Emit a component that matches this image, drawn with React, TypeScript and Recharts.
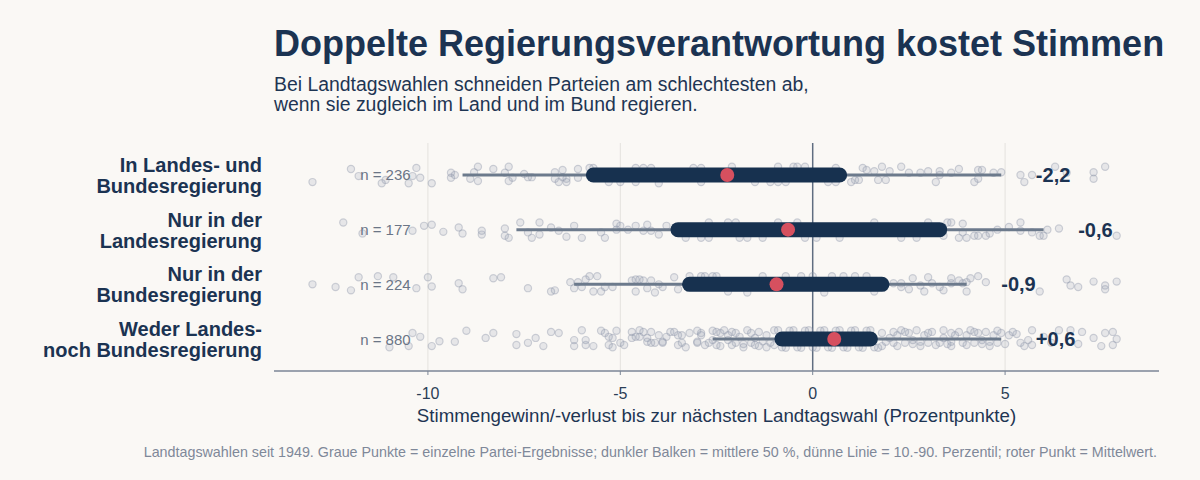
import { ReferenceLine, Scatter, ScatterChart, XAxis, YAxis } from 'recharts';

const FONT = '"Liberation Sans", Arial, sans-serif';
const NAVY = '#1b3352';

const CATEGORIES = [
  ['In Landes- und', 'Bundesregierung'],
  ['Nur in der', 'Landesregierung'],
  ['Nur in der', 'Bundesregierung'],
  ['Weder Landes-', 'noch Bundesregierung'],
];
const COUNTS = [236, 177, 224, 880];
const P10 = [-9.1, -7.7, -6.2, -2.6];
const Q1 = [-5.7, -3.5, -3.2, -0.8];
const Q3 = [0.7, 3.3, 1.8, 1.5];
const P90 = [4.9, 6.0, 4.0, 4.9];
const MEANS = [-2.22, -0.64, -0.94, 0.56];
const X_TICKS = [-10, -5, 0, 5];

// single party results: [change, vertical jitter within the row]
const ROW_POINTS: [number, number][][] = [
  [
    [-13.0, 0.13], [-12.0, -0.11], [-11.8, 0.02], [-11.2, 0.15], [-11.1, 0.09], [-10.5, 0.15], [-10.4, 0.02],
    [-10.3, -0.13], [-10.2, 0.05], [-9.9, 0.15], [-9.4, -0.04], [-9.4, 0.05], [-9.3, 0], [-8.9, 0.07],
    [-8.8, -0.05], [-8.7, -0.15], [-8.7, 0.11], [-8.3, -0.11], [-8.0, -0.04], [-7.9, -0.15], [-7.9, 0.11],
    [-7.8, 0.05], [-7.5, -0.02], [-7.4, 0.04], [-7.3, 0.04], [-6.7, -0.05], [-6.7, 0.07], [-6.6, 0.13],
    [-6.5, -0.09], [-6.5, 0.04], [-6.4, 0.13], [-6.4, 0.07], [-6.1, -0.11], [-6.1, 0.05], [-5.8, -0.13],
    [-5.7, -0.13], [-5.3, 0.13], [-5.0, 0.13], [-4.6, -0.13], [-4.6, 0.13], [-4.4, -0.13], [-4.2, -0.13],
    [-4.0, 0.15], [-3.1, -0.13], [-2.9, -0.13], [-2.9, 0.13], [-2.1, -0.15], [-1.5, 0.13], [-1.1, 0.13],
    [-0.9, -0.15], [-0.9, 0.13], [-0.7, 0.13], [-0.5, -0.15], [-0.4, -0.15], [-0.2, -0.15], [0.4, 0.13],
    [0.6, -0.13], [0.6, 0.13], [1.0, 0.13], [1.1, 0.09], [1.2, 0.09], [1.3, -0.13], [1.4, -0.09],
    [1.6, -0.07], [1.7, 0.09], [1.8, -0.15], [1.9, 0.09], [2.0, -0.07], [2.3, -0.15], [2.5, -0.04],
    [2.8, -0.04], [3.0, -0.07], [3.2, 0.13], [3.3, -0.07], [3.3, 0], [3.6, -0.04], [3.8, -0.11],
    [4.2, 0.13], [4.3, -0.09], [4.3, 0.07], [4.4, -0.09], [4.7, -0.04], [4.9, -0.05], [5.4, 0],
    [5.5, 0.13], [5.7, 0], [6.3, -0.15], [6.6, -0.04], [7.3, -0.05], [7.3, 0.07], [7.6, -0.15],
  ],
  [
    [-12.2, -0.13], [-11.7, 0.07], [-10.4, 0.02], [-10.1, -0.07], [-9.9, -0.09], [-9.6, 0.04], [-9.2, -0.04],
    [-9.1, 0.07], [-8.6, 0.02], [-8.6, 0.09], [-8.0, -0.02], [-8.0, 0.11], [-7.9, 0.15], [-7.6, -0.13],
    [-7.4, 0.05], [-7.3, 0.15], [-7.1, -0.13], [-7.1, 0.09], [-6.8, -0.04], [-6.6, 0.02], [-6.4, 0.13],
    [-6.2, -0.07], [-6.0, 0.15], [-5.5, 0.05], [-5.4, 0.15], [-5.1, 0], [-5.1, -0.11], [-5.0, -0.07],
    [-4.8, 0], [-4.6, -0.07], [-4.4, 0.02], [-4.3, -0.09], [-4.2, 0.02], [-4.0, 0.09], [-3.8, -0.07],
    [-3.3, 0.15], [-2.9, 0.15], [-2.7, -0.13], [-2.7, 0.15], [-2.2, -0.13], [-2.0, -0.13], [-1.9, 0.15],
    [-1.7, 0.15], [-1.3, 0.15], [-0.9, -0.13], [-0.4, -0.13], [-0.2, 0.15], [0.1, 0.15], [0.7, 0.15],
    [1.6, -0.13], [2.3, 0.15], [2.7, 0.15], [3.0, -0.13], [3.4, 0.11], [3.5, -0.13], [3.6, -0.13],
    [3.8, 0.15], [3.9, -0.11], [3.9, 0.05], [4.0, 0.15], [4.2, 0.11], [4.3, 0.11], [4.5, 0.11],
    [4.6, 0.07], [4.8, 0], [5.1, -0.05], [5.4, -0.13], [5.4, 0.02], [5.7, 0.05], [5.9, 0.11],
    [6.0, 0.11], [6.1, 0], [6.4, -0.02], [7.9, 0.11],
  ],
  [
    [-13.0, 0], [-12.4, 0.05], [-12.0, 0.11], [-11.8, -0.13], [-11.3, -0.15], [-10.9, -0.13], [-10.3, 0.07],
    [-10.0, -0.13], [-9.9, 0.04], [-9.2, -0.02], [-9.1, 0.09], [-8.3, -0.11], [-8.1, -0.13], [-7.4, 0.07],
    [-6.8, 0.13], [-6.7, 0.11], [-6.3, -0.04], [-6.2, 0.07], [-6.1, -0.04], [-6.0, 0.05], [-5.9, -0.09],
    [-5.8, -0.15], [-5.6, -0.15], [-5.7, 0.13], [-5.5, 0.13], [-5.4, 0.05], [-5.2, 0.05], [-4.7, -0.07],
    [-4.6, -0.09], [-4.5, -0.09], [-4.4, -0.07], [-4.2, -0.07], [-4.6, 0.13], [-4.3, 0.07], [-4.1, 0.15],
    [-4.0, 0], [-3.9, 0.05], [-3.6, -0.13], [-3.5, 0.09], [-3.2, -0.15], [-2.9, -0.15], [-2.8, -0.15],
    [-2.6, -0.15], [-2.5, -0.15], [-2.2, 0.13], [-1.7, 0.15], [-1.3, -0.15], [-0.7, -0.15], [-0.3, -0.15],
    [0.0, -0.15], [0.3, 0.15], [0.5, -0.15], [0.8, -0.15], [1.1, -0.15], [1.4, -0.15], [1.6, 0.13],
    [2.1, -0.02], [2.3, 0.05], [2.3, -0.02], [2.5, 0.09], [2.6, -0.11], [2.8, 0.02], [2.9, 0.13],
    [3.0, -0.13], [3.1, -0.02], [3.3, 0.05], [3.4, 0.11], [3.6, -0.11], [3.6, -0.02], [3.8, -0.07],
    [3.9, -0.02], [4.0, -0.04], [4.0, 0.13], [4.1, -0.11], [4.3, -0.15], [4.5, -0.04], [5.9, 0.13],
    [6.6, -0.09], [6.7, 0.02], [6.9, 0.05], [7.3, -0.05], [7.6, 0.02], [7.6, 0.09], [7.9, -0.05],
  ],
  [
    [-11.0, 0.15], [-10.5, 0.13], [-10.4, -0.11], [-10.2, -0.04], [-9.9, 0.13], [-9.7, 0.04], [-9.3, 0.05],
    [-9.0, -0.15], [-8.5, -0.02], [-8.3, -0.11], [-7.7, -0.09], [-7.7, 0.11], [-7.4, 0.07], [-7.2, -0.02],
    [-7.0, 0.13], [-6.8, -0.13], [-6.6, -0.11], [-6.2, 0.02], [-6.2, 0.13], [-6.0, -0.16], [-5.9, 0.02],
    [-5.9, 0.11], [-5.7, 0.13], [-5.5, -0.15], [-5.4, -0.11], [-5.3, 0.11], [-5.2, -0.02], [-5.1, -0.15],
    [-5.2, 0.15], [-5.0, 0.07], [-4.9, 0.11], [-4.7, -0.13], [-4.7, -0.02], [-4.5, -0.16], [-4.5, -0.04],
    [-4.4, -0.13], [-4.3, -0.02], [-4.2, -0.13], [-4.2, 0.07], [-4.1, 0.07], [-4.0, -0.07], [-3.9, 0.05],
    [-3.8, -0.04], [-3.6, -0.13], [-3.5, -0.07], [-3.5, 0.11], [-3.4, -0.07], [-3.3, 0.15], [-3.2, -0.11],
    [-3.0, -0.15], [-3.0, 0.05], [-2.9, -0.07], [-2.8, 0.11], [-2.6, 0.02], [-2.5, -0.13], [-2.5, 0.11],
    [-5.3, -0.04], [-4.6, -0.04], [-4.3, 0.05], [-3.9, 0.07], [-3.7, -0.13], [-3.4, 0.07], [-3.0, 0.07],
    [-2.9, -0.11], [-2.7, 0.07], [-2.6, -0.15], [-2.4, -0.11], [-2.3, -0.16], [-2.2, -0.07], [-2.1, -0.13],
    [-2.0, 0.07], [-2.0, -0.11], [-1.8, 0.09], [-1.7, -0.16], [-1.6, 0.07], [-1.6, -0.11], [-1.5, 0.11],
    [-1.4, -0.13], [-1.3, 0.04], [-1.2, -0.07], [-1.1, 0.07], [-1.0, -0.16], [-0.9, -0.16], [-0.7, 0.16],
    [-0.5, -0.16], [-0.3, 0.16], [-0.1, -0.16], [0.1, 0.16], [0.3, -0.16], [0.5, 0.16], [0.7, -0.16],
    [0.9, 0.16], [1.1, -0.16], [1.3, 0.16], [1.5, -0.16], [1.7, 0.16], [1.8, -0.11], [1.9, 0.05],
    [2.1, -0.13], [2.1, 0.07], [2.2, -0.07], [2.3, -0.16], [2.4, 0.07], [2.5, -0.11], [2.6, 0.09],
    [2.7, -0.16], [2.8, 0.05], [2.9, -0.07], [3.0, 0.07], [3.1, -0.13], [3.3, 0.07], [3.4, -0.16],
    [3.5, 0.09], [3.6, -0.11], [3.6, 0.05], [3.8, -0.13], [3.9, 0.07], [4.0, -0.07], [4.1, -0.16],
    [4.2, 0.07], [4.3, -0.11], [4.4, 0.09], [4.5, -0.13], [4.6, 0.05], [4.7, -0.07], [4.8, 0.07],
    [4.9, -0.11], [5.1, -0.07], [5.3, -0.09], [5.4, 0.07], [5.6, 0.02], [5.7, -0.16], [5.7, 0.11],
    [6.0, -0.04], [6.4, -0.16], [6.7, -0.16], [7.0, -0.13], [7.3, -0.02], [7.6, -0.11], [7.8, -0.13],
    [7.8, 0.11], [7.9, 0],
    [-2.4, 0.13], [-2.2, 0.02], [-2.1, 0.11], [-1.9, -0.04], [-1.8, 0.15], [-1.5, -0.02], [-1.4, 0.13],
    [-1.2, 0.15], [-1.0, 0.11], [-0.8, 0.15], [-0.6, -0.15], [-0.4, 0.15], [-0.2, -0.15], [0.0, 0.15],
    [0.2, -0.15], [0.4, 0.15], [0.6, -0.15], [0.8, 0.15], [1.0, -0.15], [1.2, 0.15], [1.4, -0.15],
    [1.6, 0.15], [1.8, 0.13], [2.0, -0.02], [2.2, 0.13], [2.4, -0.13], [2.6, 0.02], [2.8, 0.13],
    [3.0, -0.11], [3.2, 0.11], [3.4, -0.02], [3.6, 0.13], [3.7, -0.07], [4.0, 0.11], [4.2, -0.13],
    [4.4, 0.02], [4.6, 0.13], [4.8, -0.15], [5.0, 0.09], [5.2, -0.13], [5.5, 0.13], [6.2, 0.07],
    [6.9, 0.09], [7.5, 0.13],
  ],
];

// layout constants (data units)
const N_LABEL_X = -10.45;
const VALUE_LABEL_GAP = 0.9;

const fmt = (v: number) => (v > 0 ? '+' : '') + v.toFixed(1).replace('.', ',');

function Dot(p: any) {
  return (
    <circle
      cx={p.cx}
      cy={p.cy}
      r={3.6}
      fill="#98a1b3"
      fillOpacity={0.2}
      stroke="#8e97a9"
      strokeOpacity={0.4}
      strokeWidth={1.2}
    />
  );
}

const Nothing = () => <g />;

function MeanDot(p: any) {
  return <circle cx={p.cx} cy={p.cy} r={7} fill="#d6505f" />;
}

function ValueLabel(p: any) {
  return (
    <text x={p.cx} y={p.cy + 7} fontFamily={FONT} fontSize={20} fontWeight="bold" fill={NAVY}>
      {p.payload.label}
    </text>
  );
}

function CountLabel(p: any) {
  return (
    <text x={p.cx} y={p.cy + 5.5} textAnchor="end" fontFamily={FONT} fontSize={15} fill="#6b7586">
      {p.payload.label}
    </text>
  );
}

function RowTick(p: any) {
  const lines = CATEGORIES[p.payload.value] ?? [];
  return (
    <text x={p.x} y={p.y} textAnchor="end" fontFamily={FONT} fontSize={20} fontWeight="bold" fill={NAVY}>
      <tspan x={p.x} y={p.y - 3}>{lines[0]}</tspan>
      <tspan x={p.x} y={p.y + 18}>{lines[1]}</tspan>
    </text>
  );
}

export default function App() {
  const rows = CATEGORIES.map((_, i) => i);
  const means = rows.map((i) => ({ x: MEANS[i], y: i }));
  const valueLabels = rows.map((i) => ({ x: P90[i] + VALUE_LABEL_GAP, y: i, label: fmt(MEANS[i]) }));
  const countLabels = rows.map((i) => ({ x: N_LABEL_X, y: i, label: `n = ${COUNTS[i]}` }));

  return (
    <div style={{ position: 'absolute', left: 0, top: 0, width: 1200, height: 480, background: '#faf8f5' }}>
      <ScatterChart width={1200} height={480} margin={{ top: 143, right: 41, bottom: 79, left: 0 }}>
        <XAxis
          type="number"
          dataKey="x"
          domain={[-14, 9]}
          ticks={X_TICKS}
          allowDataOverflow
          height={30}
          tickSize={4}
          tickMargin={13}
          axisLine={{ stroke: '#7b8696', strokeWidth: 1.5 }}
          tickLine={{ stroke: '#7b8696' }}
          tick={{ fontSize: 16, fill: '#2b3e56', fontFamily: FONT }}
        />
        <YAxis
          type="number"
          dataKey="y"
          domain={[-0.585, 3.585]}
          reversed
          ticks={rows}
          interval={0}
          allowDataOverflow
          width={274}
          axisLine={false}
          tickLine={false}
          tickSize={0}
          tickMargin={12}
          tick={(p: any) => <RowTick {...p} />}
        />
        {X_TICKS.filter((t) => t !== 0).map((t) => (
          <ReferenceLine key={`g${t}`} x={t} stroke="#e4e2de" strokeWidth={1} />
        ))}
        <ReferenceLine x={0} stroke="#5f6d80" strokeWidth={1.5} />
        {ROW_POINTS.map((pts, i) => (
          <Scatter
            key={`pts${i}`}
            data={pts.map(([x, j]) => ({ x, y: i + j }))}
            shape={Dot}
            isAnimationActive={false}
          />
        ))}
        {rows.map((i) => (
          <Scatter
            key={`wh${i}`}
            data={[
              { x: P10[i], y: i },
              { x: P90[i], y: i },
            ]}
            line={{ stroke: '#6c7a8c', strokeWidth: 3 }}
            shape={Nothing}
            isAnimationActive={false}
          />
        ))}
        {rows.map((i) => (
          <Scatter
            key={`iqr${i}`}
            data={[
              { x: Q1[i], y: i },
              { x: Q3[i], y: i },
            ]}
            line={{ stroke: '#17314f', strokeWidth: 15, strokeLinecap: 'round' }}
            shape={Nothing}
            isAnimationActive={false}
          />
        ))}
        <Scatter data={means} shape={MeanDot} isAnimationActive={false} />
        <Scatter data={valueLabels} shape={ValueLabel} isAnimationActive={false} />
        <Scatter data={countLabels} shape={CountLabel} isAnimationActive={false} />
      </ScatterChart>
      <svg
        width={1200}
        height={480}
        style={{ position: 'absolute', left: 0, top: 0, pointerEvents: 'none' }}
        fontFamily={FONT}
      >
        <text x={274} y={56} fontSize={36} fontWeight="bold" fill={NAVY}>
          Doppelte Regierungsverantwortung kostet Stimmen
        </text>
        <text x={274} y={91} fontSize={19.4} fill="#1e3553">
          Bei Landtagswahlen schneiden Parteien am schlechtesten ab,
        </text>
        <text x={274} y={111} fontSize={19.4} fill="#1e3553">
          wenn sie zugleich im Land und im Bund regieren.
        </text>
        <text x={716.5} y={422} fontSize={18.7} textAnchor="middle" fill="#1e3553">
          Stimmengewinn/-verlust bis zur nächsten Landtagswahl (Prozentpunkte)
        </text>
        <text x={1157} y={457} fontSize={14.3} textAnchor="end" fill="#7f8899">
          Landtagswahlen seit 1949. Graue Punkte = einzelne Partei-Ergebnisse; dunkler Balken = mittlere 50 %, dünne
          Linie = 10.-90. Perzentil; roter Punkt = Mittelwert.
        </text>
      </svg>
    </div>
  );
}
